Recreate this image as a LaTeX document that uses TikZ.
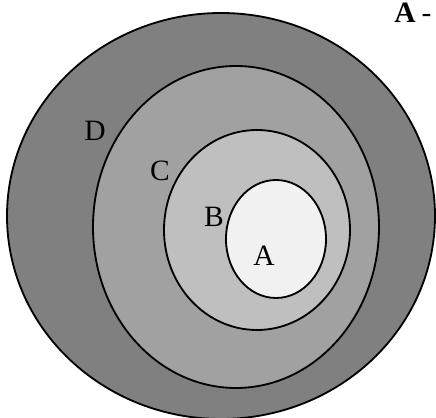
\documentclass[tikz,border=0pt]{standalone}
\usepackage{fontspec}
\setmainfont{Liberation Serif}
\usepackage{tikz}
\usetikzlibrary{positioning}
\definecolor{shadeD}{gray}{0.50}
\definecolor{shadeC}{gray}{0.63}
\definecolor{shadeB}{gray}{0.75}
\definecolor{shadeA}{gray}{0.945}
\tikzset{
  ring/.style={draw=black, line width=1.3pt},
  ringlabel/.style={font=\fontsize{21}{24}\selectfont, inner sep=0pt},
  titlelabel/.style={font=\fontsize{21}{24}\selectfont, inner sep=0pt, anchor=west}
}

\begin{document}
\begin{tikzpicture}[x=0.025cm, y=-0.025cm]
  \useasboundingbox (0,0) rectangle (436,418);
  \clip (0,0) rectangle (436,418);
  % nested sets
  \draw[ring, fill=shadeD] (221,216) ellipse (214 and 203);
  \draw[ring, fill=shadeC] (236,227) ellipse (143 and 161);
  \draw[ring, fill=shadeB] (257,230) ellipse (93 and 100);
  \draw[ring, fill=shadeA] (276,239) ellipse (50 and 59);
  \node[ringlabel] (labD) at (95,131) {D};
  \node[ringlabel] (labC) at (160,171) {C};
  \node[ringlabel] (labB) at (214,217) {B};
  \node[ringlabel] (labA) at (264,256) {A};
  \node[titlelabel] (title) at (394,13) {\textbf{A}\hspace{0.2em}-};
\end{tikzpicture}
\end{document}
